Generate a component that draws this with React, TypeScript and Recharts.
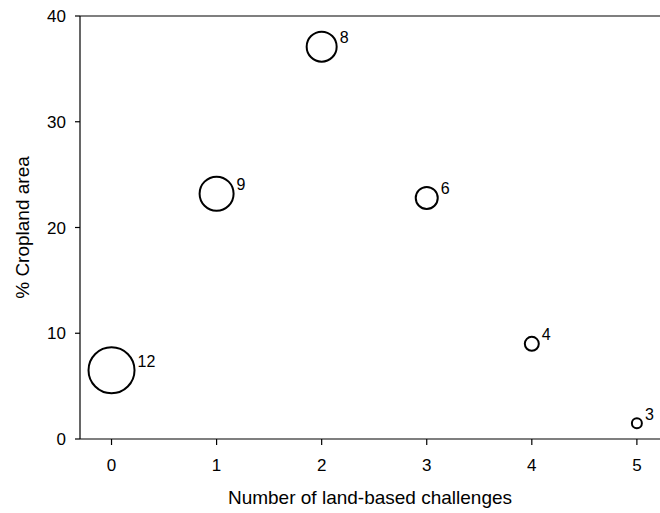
import {
  ReferenceLine,
  Scatter,
  ScatterChart,
  XAxis,
  YAxis,
} from "recharts";

const challenges = [0, 1, 2, 3, 4, 5];
const cropland = [6.5, 23.2, 37.1, 22.8, 9.0, 1.5];
const counts = [12, 9, 8, 6, 4, 3];

const xTicks = [0, 1, 2, 3, 4, 5];
const yTicks = [0, 10, 20, 30, 40];

const data = challenges.map((c, i) => ({
  x: c,
  y: cropland[i],
  n: counts[i],
}));

const font = "'Liberation Sans', Arial, sans-serif";
const tickStyle = { fill: "#000", fontSize: 17, fontFamily: font };

// bubble radius grows linearly with the count
function Bubble(props: any) {
  const { cx, cy, payload } = props;
  const r = 2 * payload.n - 1;
  return (
    <g>
      <circle cx={cx} cy={cy} r={r} fill="none" stroke="#000" strokeWidth={2} />
      <text
        x={cx + r + 3}
        y={cy - 9}
        dy="0.35em"
        fontSize={16}
        fontFamily={font}
        fill="#000"
      >
        {payload.n}
      </text>
    </g>
  );
}

export default function App() {
  return (
    <div style={{ position: "absolute", left: 0, top: 0, background: "#fff" }}>
      <ScatterChart
        width={660}
        height={513}
        margin={{ top: 16, right: 0, bottom: 0, left: 0 }}
      >
        <XAxis
          type="number"
          dataKey="x"
          domain={[-0.3, 5.22]}
          ticks={xTicks}
          allowDataOverflow
          height={74}
          tickSize={6}
          tickMargin={14}
          tick={tickStyle}
          axisLine={{ stroke: "#000", strokeWidth: 1.2 }}
          tickLine={{ stroke: "#000", strokeWidth: 1.2 }}
          label={{
            value: "Number of land-based challenges",
            position: "insideBottom",
            offset: 9,
            style: { fill: "#000", fontSize: 19, fontFamily: font },
          }}
        />
        <YAxis
          type="number"
          dataKey="y"
          domain={[0, 40]}
          ticks={yTicks}
          width={80}
          tickSize={5}
          tickMargin={9}
          tick={tickStyle}
          axisLine={{ stroke: "#000", strokeWidth: 1.2 }}
          tickLine={{ stroke: "#000", strokeWidth: 1.2 }}
          label={{
            value: "% Cropland area",
            angle: -90,
            position: "insideLeft",
            offset: 22,
            style: { fill: "#000", fontSize: 19, fontFamily: font, textAnchor: "middle" },
          }}
        />
        <ReferenceLine y={40} stroke="#000" strokeWidth={1.2} ifOverflow="extendDomain" />
        <Scatter data={data} shape={Bubble} isAnimationActive={false} />
      </ScatterChart>
    </div>
  );
}
